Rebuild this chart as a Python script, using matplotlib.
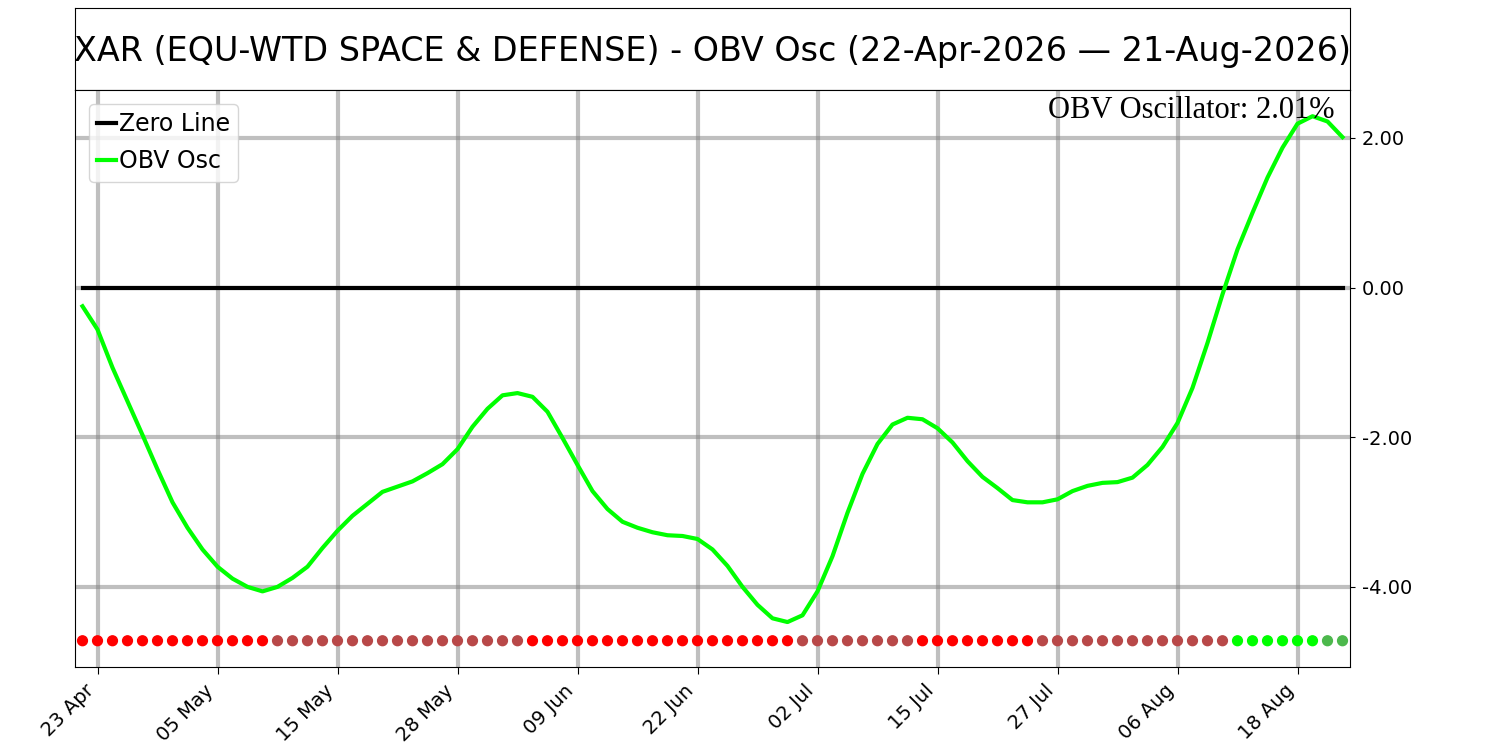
import numpy as np
import pandas as pd
import matplotlib
matplotlib.use('Agg')
import matplotlib.pyplot as plt
from matplotlib.ticker import FuncFormatter

# 거래일 (휴장일 제외)
holidays = ['2026-05-25', '2026-06-19', '2026-07-03']
dates = pd.bdate_range('2026-04-22', '2026-08-21')
dates = dates[~dates.isin(pd.to_datetime(holidays))]

# OBV 오실레이터 값 (%)
obv_osc = [
    -0.25, -0.56, -1.07, -1.52, -1.97, -2.43, -2.87, -3.21, -3.50, -3.73,
    -3.89, -4.00, -4.06, -4.00, -3.88, -3.73, -3.48, -3.25, -3.05, -2.89,
    -2.73, -2.66, -2.59, -2.48, -2.36, -2.16, -1.86, -1.62, -1.44, -1.41,
    -1.46, -1.66, -2.01, -2.37, -2.72, -2.96, -3.13, -3.21, -3.27, -3.31,
    -3.32, -3.36, -3.50, -3.72, -4.00, -4.24, -4.42, -4.47, -4.38, -4.06,
    -3.59, -3.01, -2.49, -2.09, -1.83, -1.74, -1.76, -1.88, -2.07, -2.32,
    -2.53, -2.68, -2.84, -2.87, -2.87, -2.83, -2.72, -2.65, -2.61, -2.60,
    -2.54, -2.37, -2.13, -1.81, -1.34, -0.74, -0.09, 0.51, 1.00, 1.47,
    1.87, 2.19, 2.29, 2.22, 2.01,
]

# 신호 점 색상 (0:하락 음수, 1:상승 음수, 2:상승 양수, 3:하락 양수)
signal = [0] * 13 + [1] * 17 + [0] * 18 + [1] * 8 + [0] * 8 + [1] * 13 + [2] * 6 + [3] * 2
signal_colors = ['#ff0000', '#b84848', '#00ff00', '#4cb84c']

ticker = 'XAR (EQU-WTD SPACE & DEFENSE)'
x = np.arange(len(dates))
osc = np.array(obv_osc)

fig = plt.figure(figsize=(15, 7.5), dpi=100)
ax_title = fig.add_axes([0.05, 0.88, 0.85, 0.1093])
ax = fig.add_axes([0.05, 0.1107, 0.85, 0.7693])

# 제목 박스
ax_title.set_xticks([])
ax_title.set_yticks([])
ax_title.text(0.5, 0.47,
              f"{ticker} - OBV Osc ({dates[0].strftime('%d-%b-%Y')} \u2014 {dates[-1].strftime('%d-%b-%Y')})",
              ha='center', va='center', fontsize=24)

ax.plot(x, np.zeros(len(x)), color='black', linewidth=3, label='Zero Line')
ax.plot(x, osc, color='#00ff00', linewidth=3, label='OBV Osc')

dot_level = osc.min() - 0.25
ax.scatter(x, np.full(len(x), dot_level), c=[signal_colors[s] for s in signal], s=50, zorder=3)

ax.set_xlim(-0.5, len(x) - 0.5)
tick_idx = x[1::8]
ax.set_xticks(tick_idx)
ax.set_xticklabels([dates[i].strftime('%d %b') for i in tick_idx], rotation=45, ha='right', fontsize=14)
ax.tick_params(axis='x', length=5, pad=5)

ax.yaxis.tick_right()
ax.set_yticks([2, 0, -2, -4])
ax.yaxis.set_major_formatter(FuncFormatter(lambda v, p: f'{v:.2f}'))
ax.tick_params(axis='y', labelsize=14, pad=5)
ax.grid(True, color='grey', alpha=0.5, linewidth=3)

ax.legend(loc='upper left', fontsize=17, handlelength=0.8, handletextpad=0.1, borderpad=0.35,
          labelspacing=0.55, borderaxespad=0.6)
ax.text(0.988, 0.99, f'OBV Oscillator: {osc[-1]:.2f}%', transform=ax.transAxes,
        ha='right', va='top', fontsize=22, family='Liberation Serif')

fig.savefig('out.png', dpi=100)
